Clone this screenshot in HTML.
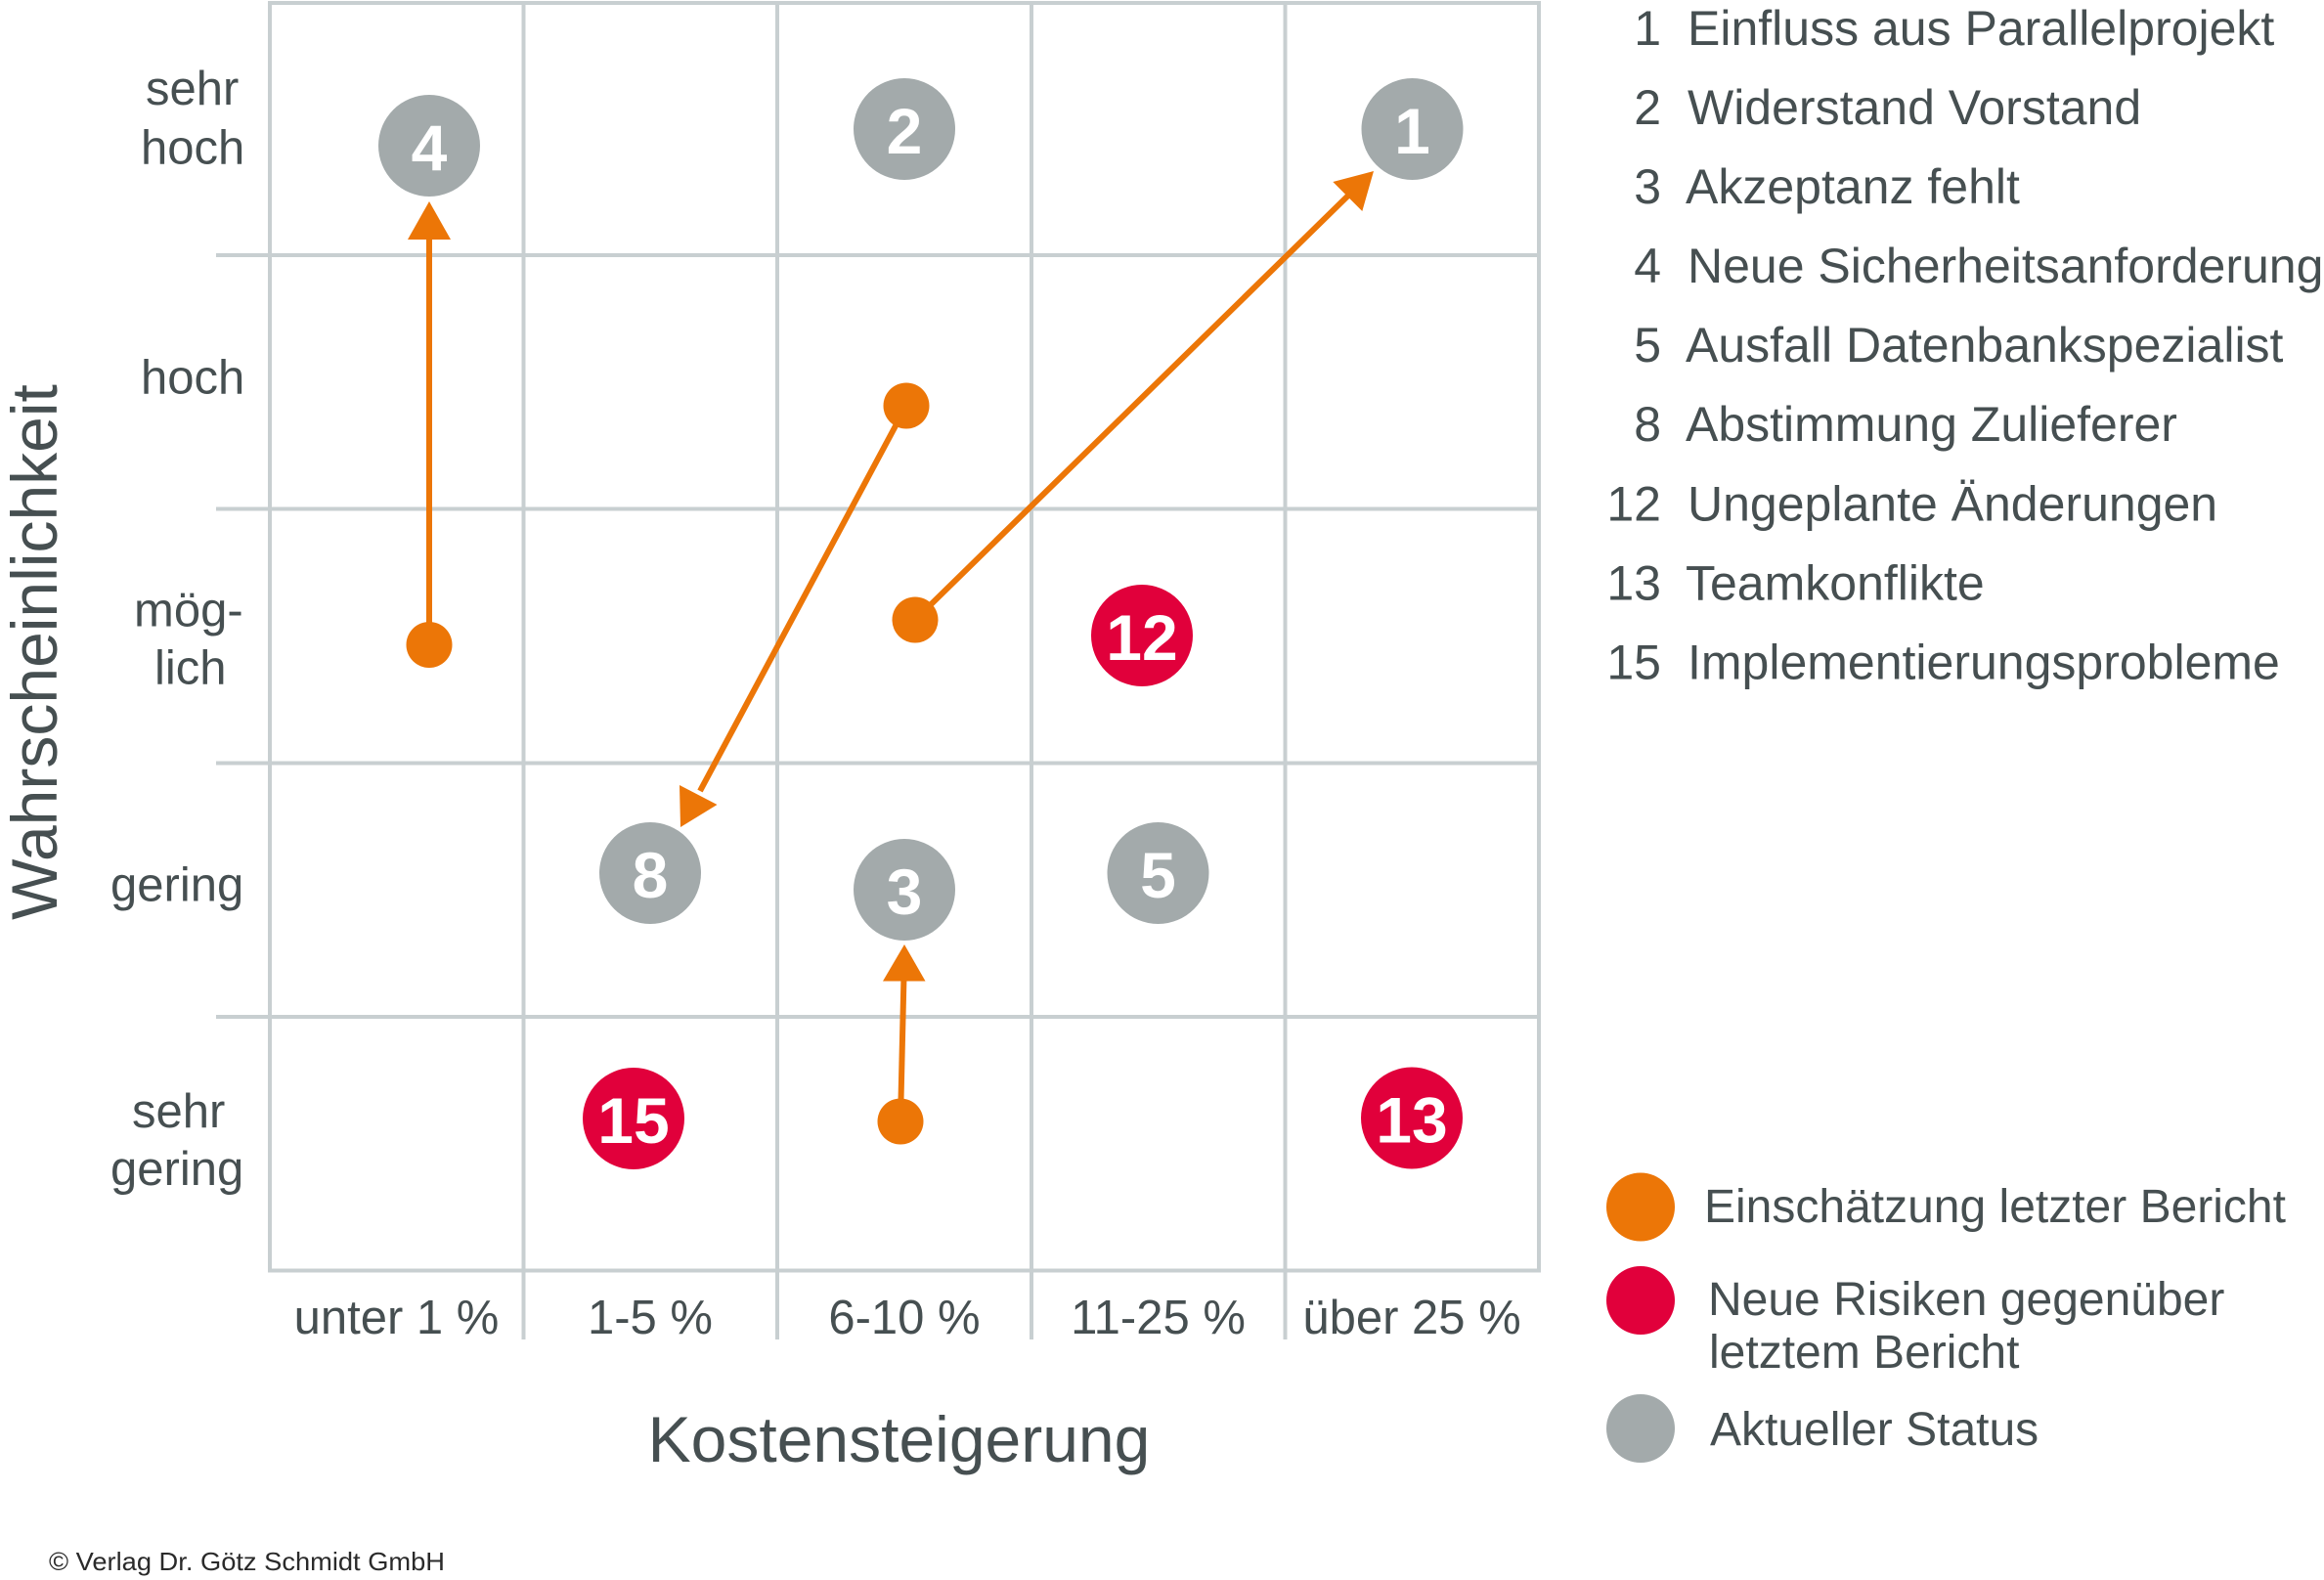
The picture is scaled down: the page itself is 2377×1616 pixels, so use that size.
<!DOCTYPE html>
<html>
<head>
<meta charset="utf-8">
<style>
  html, body { margin: 0; padding: 0; background: #ffffff; }
  svg { display: block; }
  text { font-family: "Liberation Sans", Arial, sans-serif; }
</style>
</head>
<body>
<svg width="2377" height="1616" viewBox="0 0 2377 1616" xmlns="http://www.w3.org/2000/svg">
  <rect x="0" y="0" width="2377" height="1616" fill="#ffffff"/>

  <!-- Grid -->
  <g stroke="#c8cfd1" stroke-width="4" fill="none">
    <line x1="274" y1="3" x2="1576" y2="3"/>
    <line x1="221" y1="261" x2="1576" y2="261"/>
    <line x1="221" y1="520.5" x2="1576" y2="520.5"/>
    <line x1="221" y1="780.5" x2="1576" y2="780.5"/>
    <line x1="221" y1="1040" x2="1576" y2="1040"/>
    <line x1="274" y1="1299.5" x2="1576" y2="1299.5"/>
    <line x1="276" y1="1" x2="276" y2="1301.5"/>
    <line x1="535.5" y1="1" x2="535.5" y2="1370"/>
    <line x1="795" y1="1" x2="795" y2="1370"/>
    <line x1="1055" y1="1" x2="1055" y2="1370"/>
    <line x1="1314.5" y1="1" x2="1314.5" y2="1370"/>
    <line x1="1574" y1="1" x2="1574" y2="1301.5"/>
  </g>

  <!-- Arrows -->
  <g stroke="#ec7607" stroke-width="6" fill="none" stroke-linecap="butt">
    <line x1="439" y1="659.5" x2="439" y2="240"/>
    <line x1="921" y1="1147" x2="924.5" y2="998"/>
    <line x1="927" y1="415" x2="716" y2="809"/>
    <line x1="936" y1="634" x2="1381" y2="198"/>
  </g>
  <g fill="#ec7607">
    <polygon points="439,206 417,245 461,245"/>
    <polygon points="925,966 903,1003.5 946.5,1003.5"/>
    <polygon points="696,846 695,803 733.5,823"/>
    <polygon points="1405,175 1363.3,186 1393.3,216"/>
    <circle cx="439" cy="659.5" r="23.5"/>
    <circle cx="927" cy="415" r="23.5"/>
    <circle cx="936" cy="634" r="23.5"/>
    <circle cx="921" cy="1147" r="23.5"/>
  </g>

  <!-- Gray circles (current status) -->
  <g fill="#a3aaab">
    <circle cx="439" cy="149" r="52"/>
    <circle cx="925" cy="132" r="52"/>
    <circle cx="1444.5" cy="132" r="52"/>
    <circle cx="665" cy="893" r="52"/>
    <circle cx="925" cy="910" r="52"/>
    <circle cx="1184.5" cy="893" r="52"/>
  </g>
  <!-- Red circles (new risks) -->
  <g fill="#e1003b">
    <circle cx="1168" cy="650" r="52"/>
    <circle cx="648" cy="1144" r="52"/>
    <circle cx="1444" cy="1143.5" r="52"/>
  </g>

  <!-- circle numbers -->
  <g fill="#ffffff" font-weight="bold" font-size="66" text-anchor="middle">
    <text x="439" y="174">4</text>
    <text x="925" y="157">2</text>
    <text x="1444.5" y="157">1</text>
    <text x="665" y="918">8</text>
    <text x="925" y="935">3</text>
    <text x="1184.5" y="918">5</text>
    <text x="1168" y="675">12</text>
    <text x="648" y="1169">15</text>
    <text x="1444" y="1168.5">13</text>
  </g>

  <!-- Y-axis category labels -->
  <g fill="#464f51" font-size="49">
    <text x="149" y="107">sehr</text>
    <text x="144" y="167.5">hoch</text>
    <text x="144" y="402.5">hoch</text>
    <text x="137" y="640.5">mög-</text>
    <text x="158" y="699.5">lich</text>
    <text x="113" y="921.5">gering</text>
    <text x="135" y="1153">sehr</text>
    <text x="113" y="1212">gering</text>
  </g>

  <!-- X-axis category labels -->
  <g fill="#464f51" font-size="49" text-anchor="middle">
    <text x="405.5" y="1364">unter 1 %</text>
    <text x="665" y="1364">1-5 %</text>
    <text x="925" y="1364">6-10 %</text>
    <text x="1184.5" y="1364">11-25 %</text>
    <text x="1444" y="1364">über 25 %</text>
  </g>

  <!-- Axis titles -->
  <text x="919.5" y="1495" fill="#464f51" font-size="66" text-anchor="middle">Kostensteigerung</text>
  <text transform="translate(58,667) rotate(-90)" fill="#464f51" font-size="66" text-anchor="middle">Wahrscheinlichkeit</text>

  <!-- Risk list legend -->
  <g fill="#464f51" font-size="50">
    <g text-anchor="end">
      <text x="1699" y="46">1</text>
      <text x="1699" y="127">2</text>
      <text x="1699" y="208">3</text>
      <text x="1699" y="289">4</text>
      <text x="1699" y="370">5</text>
      <text x="1699" y="451">8</text>
      <text x="1699" y="532.5">12</text>
      <text x="1699" y="613.5">13</text>
      <text x="1699" y="694.5">15</text>
    </g>
    <text x="1726" y="46">Einfluss aus Parallelprojekt</text>
    <text x="1726" y="127">Widerstand Vorstand</text>
    <text x="1724" y="208">Akzeptanz fehlt</text>
    <text x="1726" y="289">Neue Sicherheitsanforderung</text>
    <text x="1724" y="370">Ausfall Datenbankspezialist</text>
    <text x="1724" y="451">Abstimmung Zulieferer</text>
    <text x="1726" y="532.5">Ungeplante Änderungen</text>
    <text x="1724" y="613.5">Teamkonflikte</text>
    <text x="1726" y="694.5">Implementierungsprobleme</text>
  </g>

  <!-- Color legend -->
  <circle cx="1678" cy="1234.5" r="35" fill="#ec7607"/>
  <circle cx="1678" cy="1330" r="35" fill="#e1003b"/>
  <circle cx="1678" cy="1461" r="35" fill="#a3aaab"/>
  <g fill="#464f51" font-size="48">
    <text x="1743" y="1250">Einschätzung letzter Bericht</text>
    <text x="1747" y="1345">Neue Risiken gegenüber</text>
    <text x="1748" y="1399">letztem Bericht</text>
    <text x="1749" y="1478">Aktueller Status</text>
  </g>

  <!-- Copyright -->
  <text x="50" y="1606" fill="#2a2a2a" font-size="26" textLength="405" lengthAdjust="spacingAndGlyphs">© Verlag Dr. Götz Schmidt GmbH</text>
</svg>
</body>
</html>
